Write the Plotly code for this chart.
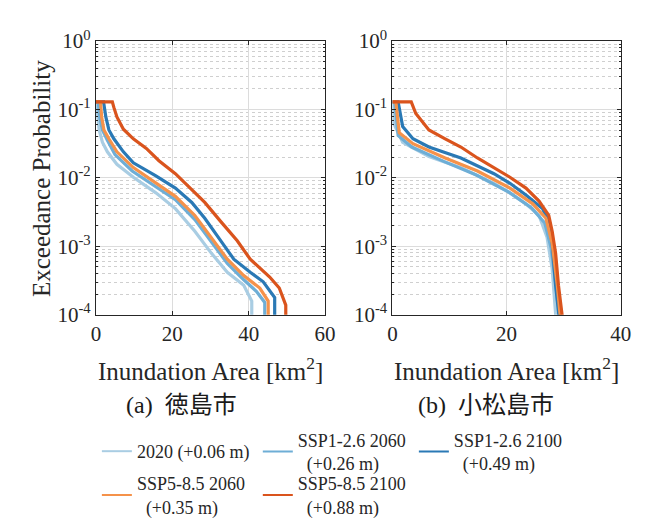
import plotly.graph_objects as go

W, H = 649, 522

# ---------------- data ----------------
series_names = [
    "2020 (+0.06 m)",
    "SSP1-2.6 2060<br>\u00a0\u00a0(+0.26 m)",
    "SSP1-2.6 2100<br>\u00a0\u00a0(+0.49 m)",
    "SSP5-8.5 2060<br>\u00a0\u00a0(+0.35 m)",
    "SSP5-8.5 2100<br>\u00a0\u00a0(+0.88 m)",
]
series_colors = ["#a9cde3", "#6eaed6", "#2a79b5", "#f5924a", "#da541d"]

# (a) Tokushima City -- inundation area [km2] vs exceedance probability
a_2020_x = [0, 0.2, 0.5, 0.85, 1.7, 3.0, 5.5, 9.8, 15.7, 20.8, 25.9, 30.2, 34.4, 38.7, 40.8, 40.8]
a_2020_p = [0.129, 0.129, 0.0794, 0.0501, 0.0331, 0.0240, 0.0158, 0.0102, 0.00603, 0.00355,
            0.00166, 0.000794, 0.000417, 0.000269, 0.000158, 0.00008]
a_s126_2060_x = [0, 0.6, 1.0, 1.7, 3.0, 5.0, 9.5, 15.5, 20.8, 25.9, 30.2, 34.4, 38.7, 42.0, 44.2, 44.2]
a_s126_2060_p = [0.129, 0.129, 0.0776, 0.0501, 0.0355, 0.0219, 0.0126, 0.00741, 0.00479, 0.00245,
                 0.00117, 0.000562, 0.000324, 0.000219, 0.000151, 0.00008]
a_s126_2100_x = [0, 2.0, 2.3, 2.6, 3.4, 4.7, 7.2, 9.8, 15.7, 20.8, 25.1, 28.5, 32.7, 36.1, 40.4, 43.8, 46.8, 46.8]
a_s126_2100_p = [0.129, 0.129, 0.1, 0.0776, 0.0501, 0.0372, 0.0240, 0.0166, 0.0107, 0.00708,
                 0.00437, 0.00257, 0.00120, 0.000646, 0.000417, 0.000302, 0.000178, 0.00008]
a_s585_2060_x = [0, 1.2, 1.5, 2.1, 3.4, 5.5, 9.8, 15.7, 20.8, 25.9, 30.2, 34.4, 38.7, 42.9, 45.1, 45.1]
a_s585_2060_p = [0.129, 0.129, 0.0776, 0.0501, 0.0372, 0.0240, 0.0141, 0.00832, 0.00537, 0.00282,
                 0.00135, 0.000646, 0.000372, 0.000245, 0.000158, 0.00008]
a_s585_2100_x = [0, 4.3, 4.7, 5.5, 7.2, 9.8, 13.2, 16.5, 20.8, 24.2, 28.5, 32.7, 37.0, 40.4, 42.9,
                 45.5, 48.0, 49.7, 49.7]
a_s585_2100_p = [0.129, 0.129, 0.107, 0.0776, 0.0513, 0.0372, 0.0269, 0.0178, 0.0115, 0.00741,
                 0.00437, 0.00229, 0.00120, 0.000646, 0.000490, 0.000355, 0.000245, 0.000138, 0.00008]

# (b) Komatsushima City
b_2020_x = [0, 0.2, 1.8, 6.4, 12.0, 17.8, 20.6, 23.4, 25.7, 27.1, 28.0, 28.6, 28.7]
b_2020_p = [0.129, 0.0631, 0.0331, 0.0204, 0.0141, 0.00832, 0.00603, 0.00417, 0.00282, 0.00135,
            0.000468, 0.000105, 0.00008]
b_s126_2060_x = [0, 0.4, 1.0, 3.4, 9.0, 14.7, 20.4, 24.4, 26.7, 27.8, 28.7, 29.2, 29.3]
b_s126_2060_p = [0.129, 0.129, 0.0417, 0.0282, 0.0174, 0.0110, 0.00617, 0.00363, 0.00219, 0.000955,
                 0.000251, 0.000105, 0.00008]
b_s126_2100_x = [0, 1.0, 1.8, 3.6, 6.4, 12.0, 17.8, 20.6, 23.4, 26.3, 27.4, 28.0, 28.6, 29.1, 29.3]
b_s126_2100_p = [0.129, 0.129, 0.0562, 0.0372, 0.0282, 0.0195, 0.0115, 0.00832, 0.00562, 0.00355,
                 0.00229, 0.00110, 0.000269, 0.000105, 0.00008]
b_s585_2060_x = [0, 0.6, 1.2, 3.6, 9.25, 14.9, 20.6, 24.6, 26.9, 28.0, 28.9, 29.4, 29.5]
b_s585_2060_p = [0.129, 0.129, 0.0457, 0.0316, 0.0195, 0.0126, 0.00708, 0.00417, 0.00257, 0.00110,
                 0.000269, 0.000105, 0.00008]
b_s585_2100_x = [0, 3.3, 4.1, 6.4, 9.25, 12.0, 14.9, 17.8, 20.6, 23.4, 25.7, 27.4, 28.0, 28.6, 29.1,
                 29.7, 29.9]
b_s585_2100_p = [0.129, 0.129, 0.0871, 0.0501, 0.0372, 0.0282, 0.0195, 0.0141, 0.0102, 0.00708,
                 0.00457, 0.00282, 0.00166, 0.000794, 0.000269, 0.000105, 0.00008]

panel_a = [(a_2020_x, a_2020_p), (a_s126_2060_x, a_s126_2060_p), (a_s126_2100_x, a_s126_2100_p),
           (a_s585_2060_x, a_s585_2060_p), (a_s585_2100_x, a_s585_2100_p)]
panel_b = [(b_2020_x, b_2020_p), (b_s126_2060_x, b_s126_2060_p), (b_s126_2100_x, b_s126_2100_p),
           (b_s585_2060_x, b_s585_2060_p), (b_s585_2100_x, b_s585_2100_p)]

y_tickvals = [1e-4, 1e-3, 1e-2, 1e-1, 1]
y_ticktext = ["10<sup>-4</sup>", "10<sup>-3</sup>", "10<sup>-2</sup>", "10<sup>-1</sup>", "10<sup>0</sup>"]
y_minor = [m * 10.0 ** e for e in (-4, -3, -2, -1) for m in range(2, 10)]
xa_ticks = [0, 20, 40, 60]
xb_ticks = [0, 20, 40]

# ---------------- figure ----------------
SERIF = '"Liberation Serif", "Times New Roman", Times, serif'
CJK = '"Liberation Serif", "Noto Sans CJK JP", serif'
TXT = "#262626"
fig = go.Figure()

legend_ids = ["legend", "legend2", "legend3", "legend4", "legend5"]
for i, ((xa, pa), (xb, pb)) in enumerate(zip(panel_a, panel_b)):
    fig.add_trace(go.Scatter(x=xa, y=pa, mode="lines", name=series_names[i],
                             line=dict(color=series_colors[i], width=3.2),
                             xaxis="x", yaxis="y", showlegend=False))
    fig.add_trace(go.Scatter(x=xb, y=pb, mode="lines", name=series_names[i],
                             line=dict(color=series_colors[i], width=3.2),
                             xaxis="x2", yaxis="y2", showlegend=False))
    # legend key (thin line, as in the reference legend)
    fig.add_trace(go.Scatter(x=[None], y=[None], mode="lines", name=series_names[i],
                             line=dict(color=series_colors[i], width=2),
                             xaxis="x", yaxis="y", legend=legend_ids[i], showlegend=True))

def px_x(v):
    return v / W

def px_y(v):
    return 1 - v / H

axis_common = dict(
    showline=True, linecolor=TXT, linewidth=1, mirror="allticks",
    ticks="inside", ticklen=4, tickcolor=TXT,
    showgrid=True, gridcolor="#dcdcdc", gridwidth=1,
    zeroline=False,
    tickfont=dict(family=SERIF, size=21, color=TXT),
)
minor_common = dict(tickvals=y_minor, showgrid=True, gridcolor="#cfcfcf", griddash="dot",
                    gridwidth=1, ticks="inside", ticklen=2, tickcolor=TXT)

ydom = [px_y(308), px_y(20)]
fig.update_layout(
    width=W, height=H,
    margin=dict(l=0, r=0, t=0, b=0),
    paper_bgcolor="white", plot_bgcolor="white",
    xaxis=dict(domain=[px_x(85), px_x(320)], range=[0, 60], tickvals=xa_ticks, anchor="y", **axis_common),
    xaxis2=dict(domain=[px_x(389), px_x(623)], range=[0, 40], tickvals=xb_ticks, anchor="y2", **axis_common),
    yaxis=dict(domain=ydom, type="log", range=[-4, 0], tickvals=y_tickvals, ticktext=y_ticktext,
               anchor="x", minor=minor_common, **axis_common),
    yaxis2=dict(domain=ydom, type="log", range=[-4, 0], tickvals=y_tickvals, ticktext=y_ticktext,
                anchor="x2", minor=minor_common, **axis_common),
    font=dict(family=SERIF, color=TXT, size=17),
)

# legends: one per entry, placed in a 3-column grid
legend_pos = [(86, 452), (251, 452), (411, 452), (86, 498), (251, 498)]
for lid, (lx, ly) in zip(legend_ids, legend_pos):
    fig.update_layout({lid: dict(
        x=px_x(lx), y=px_y(ly), xanchor="left", yanchor="middle",
        orientation="h", bgcolor="rgba(0,0,0,0)", borderwidth=0,
        font=dict(family=SERIF, size=18, color=TXT),
        valign="middle",
    )})

annotations = [
    dict(text="Exceedance Probability", x=px_x(30), y=px_y(165), textangle=-90,
         font=dict(family=SERIF, size=25, color=TXT)),
    dict(text="Inundation Area [km<sup>2</sup>]", x=px_x(203), y=px_y(365),
         font=dict(family=SERIF, size=25, color=TXT)),
    dict(text="Inundation Area [km<sup>2</sup>]", x=px_x(506), y=px_y(365),
         font=dict(family=SERIF, size=25, color=TXT)),
    dict(text="(a)\u00a0\u00a0徳島市", x=px_x(173), y=px_y(403),
         font=dict(family=CJK, size=24, color="#1a1a1a")),
    dict(text="(b)\u00a0\u00a0小松島市", x=px_x(485), y=px_y(403),
         font=dict(family=CJK, size=24, color="#1a1a1a")),
]
for a in annotations:
    a.update(xref="paper", yref="paper", showarrow=False, xanchor="center", yanchor="middle")
fig.update_layout(annotations=annotations)

fig.write_html("out.html")
